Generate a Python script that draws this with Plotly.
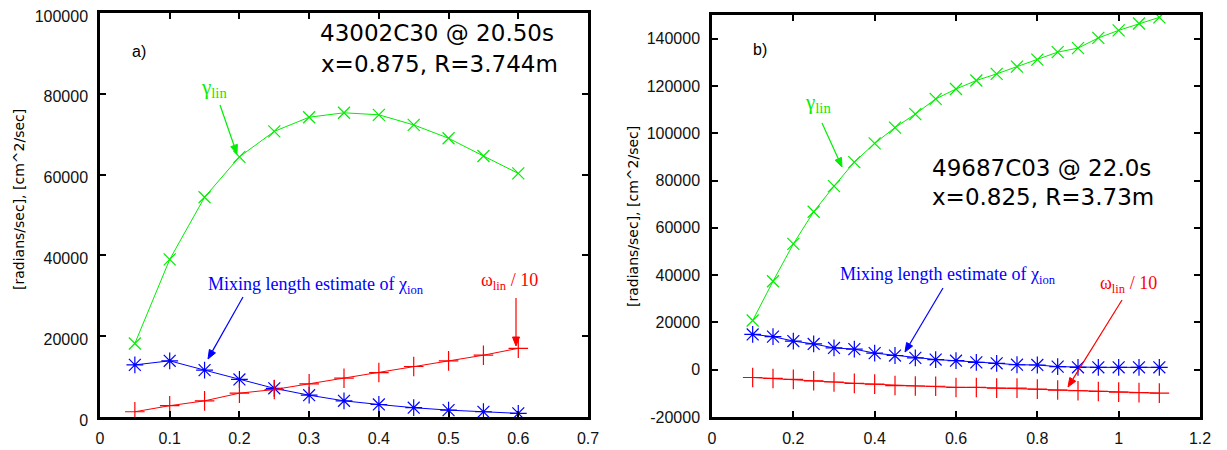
import math
import plotly.graph_objects as go

# page is 1227x450; the HTML body has an 8 px default margin, so the figure is
# made 8 px smaller and every page coordinate is shifted by that offset.
PAGE_W, PAGE_H = 1227, 450
OFF = 8
W, H = PAGE_W - OFF, PAGE_H - OFF

# ---------------- data: panel a) ----------------
x_a = [0.05, 0.10, 0.15, 0.20, 0.25, 0.30, 0.35, 0.40, 0.45, 0.50, 0.55, 0.60]
gamma_a = [18200, 39000, 54400, 64400, 70700, 74200, 75300, 74800, 72300, 69000, 64600, 60300]
chi_a = [12900, 13900, 11600, 9300, 7100, 5400, 4000, 3100, 2300, 1700, 1300, 900]
omega_a = [1300, 2800, 4000, 5900, 6800, 8200, 9600, 11000, 12500, 13900, 15300, 17000]

# ---------------- data: panel b) ----------------
x_b = [0.10, 0.15, 0.20, 0.25, 0.30, 0.35, 0.40, 0.45, 0.50, 0.55, 0.60,
       0.65, 0.70, 0.75, 0.80, 0.85, 0.90, 0.95, 1.00, 1.05, 1.10]
gamma_b = [20800, 37400, 53200, 66800, 77600, 87800, 95700, 102400, 108100, 114500, 118700,
           122300, 125100, 128200, 131100, 134300, 136000, 140300, 143500, 146400, 149000]
chi_b = [14900, 14000, 12100, 10900, 9200, 8700, 7000, 6000, 5000, 4300, 3800,
         3100, 2700, 2100, 2000, 1300, 1000, 1000, 1000, 1000, 1000]
omega_b = [-3300, -3700, -4100, -4700, -5200, -5800, -6100, -6700, -6900, -7000, -7500,
           -7500, -7800, -7800, -8200, -8600, -8900, -9200, -9500, -9700, -9900]

# axis tick values / labels
ytick_a = [0, 20000, 40000, 60000, 80000, 100000]
xtick_a = [0, 0.1, 0.2, 0.3, 0.4, 0.5, 0.6, 0.7]
ytick_b = [-20000, 0, 20000, 40000, 60000, 80000, 100000, 120000, 140000]
xtick_b = [0, 0.2, 0.4, 0.6, 0.8, 1.0, 1.2]
xlab_b = ["0", "0.2", "0.4", "0.6", "0.8", "1", "1.2"]

GREEN = "#00ee00"
BLUE = "#0000ff"
RED = "#ff0000"


def P(x, y):
    """page pixel -> paper fraction"""
    return (x - OFF) / W, 1 - (y - OFF) / H


def dom_x(x0, x1):
    return [P(x0, 0)[0], P(x1, 0)[0]]


def dom_y(top, bottom):
    return [P(0, bottom)[1], P(0, top)[1]]


fig = go.Figure()


def add_series(xs, ys, color, symbol, size, xa, ya):
    fig.add_trace(go.Scatter(
        x=xs, y=ys, mode="lines+markers", xaxis=xa, yaxis=ya,
        line=dict(color=color, width=1),
        marker=dict(symbol=symbol, size=size, color=color,
                    line=dict(color=color, width=1.2)),
        showlegend=False, hoverinfo="skip"))


add_series(x_a, gamma_a, GREEN, "x-thin-open", 12, "x", "y")
add_series(x_a, chi_a, BLUE, "asterisk-open", 14, "x", "y")
add_series(x_a, omega_a, RED, "cross-thin-open", 14, "x", "y")
add_series(x_b, gamma_b, GREEN, "x-thin-open", 12, "x2", "y2")
add_series(x_b, chi_b, BLUE, "asterisk-open", 14, "x2", "y2")
add_series(x_b, omega_b, RED, "cross-thin-open", 14, "x2", "y2")

tickfont = dict(family="Liberation Sans, Arial", size=16, color="#111")
axis_common = dict(showline=True, linecolor="black", linewidth=2.5, mirror="ticks",
                   ticks="inside", ticklen=6, tickwidth=2, tickcolor="black",
                   showgrid=False, zeroline=False, tickfont=tickfont,
                   automargin=False, ticklabeloverflow="allow")

fig.update_layout(
    width=W, height=H,
    margin=dict(l=0, r=0, t=0, b=0, autoexpand=False),
    paper_bgcolor="white", plot_bgcolor="white",
    xaxis=dict(domain=dom_x(100, 588), range=[0, 0.7], tickvals=xtick_a,
               ticktext=[f"{v:g}" for v in xtick_a], anchor="y",
               ticklabelstandoff=5, **axis_common),
    yaxis=dict(domain=dom_y(13, 417), range=[0, 100000], tickvals=ytick_a,
               ticktext=[str(v) for v in ytick_a], anchor="x",
               ticklabelstandoff=6, ticklabelshift=3, **axis_common),
    xaxis2=dict(domain=dom_x(712, 1200), range=[0, 1.2], tickvals=xtick_b,
                ticktext=xlab_b, anchor="y2", ticklabelstandoff=5, **axis_common),
    yaxis2=dict(domain=dom_y(15, 417), range=[-20000, 150000], tickvals=ytick_b,
                ticktext=[str(v) for v in ytick_b], anchor="x2",
                ticklabelstandoff=6, **axis_common),
)

ann = []
shapes = []


def text(x, y, s, size, color="black", family="DejaVu Sans", angle=0):
    px_, py_ = P(x, y)
    ann.append(dict(x=px_, y=py_, xref="paper", yref="paper", text=s, showarrow=False,
                    xanchor="center", yanchor="middle", textangle=angle,
                    font=dict(family=family, size=size, color=color)))


def arrow(x0, y0, x1, y1, color):
    dx, dy = x1 - x0, y1 - y0
    L = math.hypot(dx, dy)
    ux, uy = dx / L, dy / L
    hl, hw = 9.0, 3.5
    bx, by = x1 - ux * hl, y1 - uy * hl
    a = P(x0, y0)
    b = P(bx, by)
    shapes.append(dict(type="line", xref="paper", yref="paper",
                       x0=a[0], y0=a[1], x1=b[0], y1=b[1],
                       line=dict(color=color, width=1.2)))
    px1, py1 = P(x1, y1)
    l = P(bx - uy * hw, by + ux * hw)
    r = P(bx + uy * hw, by - ux * hw)
    path = f"M {px1},{py1} L {l[0]},{l[1]} L {r[0]},{r[1]} Z"
    shapes.append(dict(type="path", xref="paper", yref="paper", path=path,
                       fillcolor=color, line=dict(color=color, width=1)))


SERIF = "Liberation Serif, Times New Roman"

# y-axis titles
text(19, 200, "[radians/sec], [cm^2/sec]", 14, angle=-90)
text(633, 217, "[radians/sec], [cm^2/sec]", 14, angle=-90)

# panel a) labels
text(139, 52, "a)", 16, family="Liberation Sans, Arial")
text(437, 33, "43002C30 @ 20.50s", 23)
text(439, 64, "x=0.875, R=3.744m", 23)
text(214, 88, "γ<sub>lin</sub>", 21, GREEN, SERIF)
arrow(220, 105, 237, 154, GREEN)
text(316, 285, "Mixing length estimate of χ<sub>ion</sub>", 18, BLUE, SERIF)
arrow(243, 297, 208, 359, BLUE)
text(509, 281, "ω<sub>lin</sub> / 10", 18, RED, SERIF)
arrow(516, 298, 516, 346, RED)

# panel b) labels
text(760, 49, "b)", 16, family="Liberation Sans, Arial")
text(1041, 168, "49687C03 @ 22.0s", 23)
text(1043, 197, "x=0.825, R=3.73m", 23)
text(818, 103, "γ<sub>lin</sub>", 21, GREEN, SERIF)
arrow(822, 123, 842, 167, GREEN)
text(948, 275, "Mixing length estimate of χ<sub>ion</sub>", 18, BLUE, SERIF)
arrow(943, 288, 905, 352, BLUE)
text(1128, 284, "ω<sub>lin</sub> / 10", 18, RED, SERIF)
arrow(1122, 300, 1068, 387, RED)

fig.update_layout(annotations=ann, shapes=shapes)
fig.write_html("out.html")
